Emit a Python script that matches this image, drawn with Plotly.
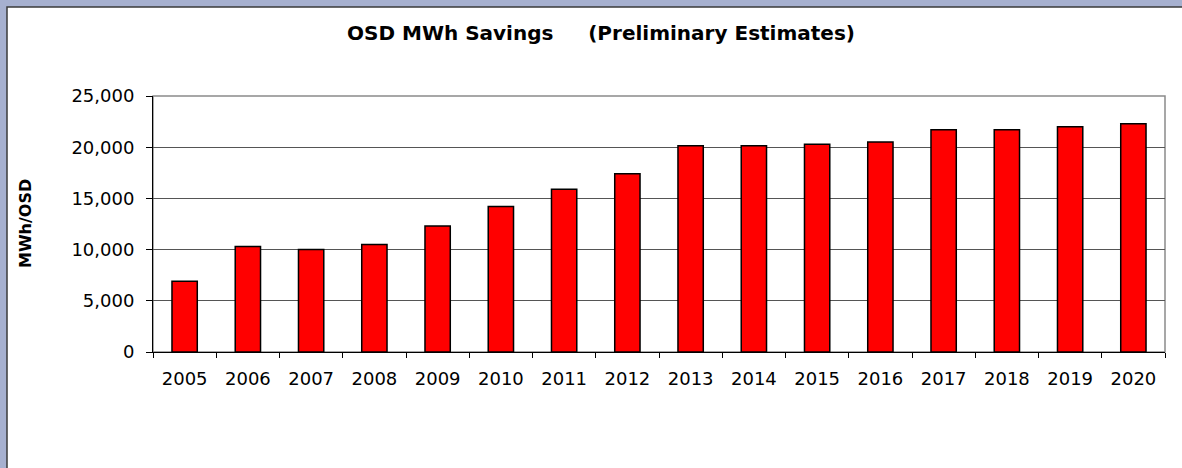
import plotly.graph_objects as go

years = [str(y) for y in range(2005, 2021)]
savings = [6900, 10300, 10000, 10500, 12300, 14200, 15900, 17400,
           20150, 20150, 20300, 20500, 21700, 21700, 22000, 22300]
y_ticks = [0, 5000, 10000, 15000, 20000, 25000]

title_text = "OSD MWh Savings\u00a0\u00a0\u00a0\u00a0\u00a0(Preliminary Estimates)"
y_label = "MWh/OSD"

W, H = 1182, 468
L, R, T, B = 153, 17, 96, 116
pw, ph = W - L - R, H - T - B

def px_x(p):
    return (p - L) / pw

def px_y(p):
    return (H - B - p) / ph

fig = go.Figure(go.Bar(
    x=years, y=savings,
    marker=dict(color="#FF0000", line=dict(color="#000000", width=1.5)),
))

FONT = "DejaVu Sans, Arial, sans-serif"

fig.update_layout(
    width=W, height=H,
    margin=dict(l=L, r=R, t=T, b=B, autoexpand=False),
    paper_bgcolor="#a6b0cf",
    plot_bgcolor="#ffffff",
    bargap=0.6,
    showlegend=False,
    title=dict(text=title_text, x=601 / W, xanchor="center", xref="container",
               y=1 - 33 / H, yanchor="middle", yref="container",
               font=dict(family=FONT, size=20, color="#000000", weight="bold")),
    font=dict(family=FONT, size=18, color="#000000"),
)

fig.update_xaxes(
    type="category", showgrid=False, showline=True, linecolor="#000000", linewidth=1,
    ticks="outside", tickson="boundaries", ticklen=5, tickcolor="#000000",
    tickfont=dict(family=FONT, size=18, color="#000000"),
    ticklabelstandoff=10,
)
fig.update_yaxes(
    range=[0, 25000], tickvals=y_ticks, tickformat=",",
    showgrid=True, gridcolor="#555555", gridwidth=1,
    showline=True, linecolor="#000000", linewidth=1,
    ticks="outside", ticklen=6, tickcolor="#000000",
    tickfont=dict(family=FONT, size=18, color="#000000"),
    ticklabelstandoff=8, zeroline=False,
)

# white chart frame (extends past right/bottom edges)
fig.add_shape(type="rect", xref="paper", yref="paper",
              x0=px_x(7), x1=px_x(1195), y0=px_y(485), y1=px_y(7),
              fillcolor="#ffffff", line=dict(color="#3a3a3a", width=1.5),
              layer="below")
# plot area box (top/right gray border)
fig.add_shape(type="rect", xref="paper", yref="paper",
              x0=0, x1=1, y0=0, y1=1,
              line=dict(color="#8a8a8a", width=1.5), layer="below")

fig.add_annotation(text=y_label, xref="paper", yref="paper",
                   x=px_x(25), y=0.5, xanchor="center", yanchor="middle",
                   textangle=-90, showarrow=False,
                   font=dict(family=FONT, size=16, color="#000000", weight="bold"))

fig.write_html("out.html", config={"displayModeBar": False},
               post_script="document.body.style.margin='0';document.body.style.overflow='hidden';")
